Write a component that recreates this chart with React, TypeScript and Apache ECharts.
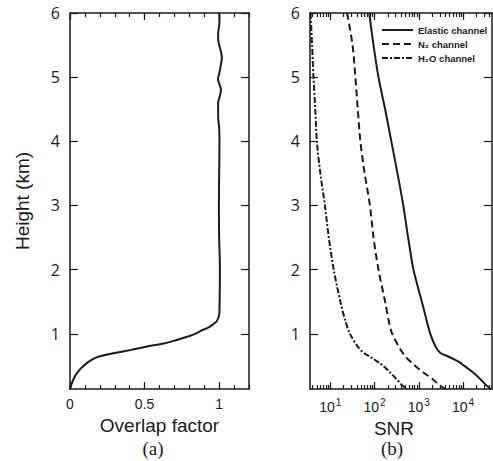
import React, { useEffect, useRef } from "react";
import * as echarts from "echarts";

// ---- Data ----
const overlapHeights = [0.14, 0.2, 0.3, 0.4, 0.5, 0.6, 0.65, 0.7, 0.75, 0.8, 0.85, 0.9, 0.95, 1.0, 1.05, 1.1, 1.15, 1.2, 1.3, 1.5, 2.0, 2.5, 3.0, 3.5, 4.0, 4.2, 4.4, 4.6, 4.7, 4.8, 4.9, 4.97, 5.05, 5.2, 5.3, 5.4, 5.5, 5.6, 5.7, 5.8, 5.9, 6.0];
const overlapFactor = [0, 0.008, 0.025, 0.05, 0.09, 0.15, 0.2, 0.3, 0.41, 0.51, 0.63, 0.71, 0.78, 0.84, 0.88, 0.93, 0.96, 0.985, 1.0, 1.003, 1.005, 1.0, 0.998, 1.0, 1.002, 1.0, 0.993, 0.993, 1.004, 1.012, 1.0, 0.992, 1.0, 1.012, 1.018, 1.012, 1.0, 0.993, 0.994, 1.0, 1.002, 1.0];

const snrHeights = [6, 5.5, 5, 4.5, 4, 3.5, 3, 2.5, 2, 1.5, 1.2, 1, 0.8, 0.7, 0.65, 0.6, 0.55, 0.5, 0.4, 0.3, 0.2, 0.14];
const elasticSnr = [76, 95, 123, 174, 240, 331, 447, 575, 759, 1175, 1514, 1820, 2400, 3090, 4470, 6310, 8510, 10700, 16600, 24000, 33100, 41700];
const n2Snr = [24, 32, 37, 42, 48, 60, 79, 95, 123, 174, 210, 251, 355, 437, 500, 575, 700, 832, 1260, 2000, 2950, 3980];
const h2oSnr = [3.6, 3.9, 4.2, 4.6, 5.0, 6.0, 7.6, 9.3, 12, 17, 22, 28, 42, 58, 76, 100, 126, 158, 224, 309, 417, 537];

const seriesNames = ["Elastic channel", "N\u2082 channel", "H\u2082O channel"];
const heightTicks = [1, 2, 3, 4, 5, 6];
const overlapLabels = [0, 0.5, 1];
const overlapMinorTicks = [0, 0.1, 0.2, 0.3, 0.4, 0.5, 0.6, 0.7, 0.8, 0.9, 1.0, 1.1, 1.2];
const snrDecades = [1, 2, 3, 4];
const panelLabels = ["(a)", "(b)"];

const INK = "#1a1a1a";
const SNR_MIN = Math.log10(3.5);
const SNR_MAX = Math.log10(45000);
const H_MIN = 0.14;
const H_MAX = 6;

const logMinor: number[] = [];
for (let n = 0; n <= 4; n++) {
  for (let k = 1; k <= 9; k++) {
    const v = Math.log10(k * Math.pow(10, n));
    if (v >= SNR_MIN && v <= SNR_MAX) logMinor.push(v);
  }
}

function xAxisDef(gridIndex: number, position: string, min: number, max: number, ticks: number[], len: number, showLine: boolean, extra: any = {}) {
  return {
    type: "value",
    gridIndex,
    position,
    min,
    max,
    axisLine: { show: showLine, onZero: false, lineStyle: { color: INK, width: 1.5 } },
    axisTick: { show: true, inside: true, length: len, customValues: ticks, lineStyle: { color: INK, width: 1.2 } },
    axisLabel: { show: false },
    splitLine: { show: false },
    ...extra,
  };
}

function yAxisDef(gridIndex: number, position: string, showLabels: boolean, extra: any = {}) {
  return {
    type: "value",
    gridIndex,
    position,
    min: H_MIN,
    max: H_MAX,
    axisLine: { show: true, onZero: false, lineStyle: { color: INK, width: 1.5 } },
    axisTick: { show: true, inside: true, length: 8, customValues: heightTicks, lineStyle: { color: INK, width: 1.2 } },
    axisLabel: showLabels
      ? { show: true, customValues: heightTicks, margin: 10, color: INK, fontSize: 16, fontFamily: "Open Sans" }
      : { show: false },
    splitLine: { show: false },
    ...extra,
  };
}

export default function App() {
  const ref = useRef<HTMLDivElement>(null);
  useEffect(() => {
    if (!ref.current) return;
    const chart = echarts.init(ref.current, undefined, { renderer: "svg" });
    const toLog = (vals: number[]) => snrHeights.map((h, i) => [Math.log10(vals[i]), h]);
    const option: any = {
      animation: false,
      backgroundColor: "#ffffff",
      grid: [
        { left: 70, top: 13, width: 179, height: 376, outerBoundsMode: "none" },
        { left: 310, top: 13, width: 182, height: 376, outerBoundsMode: "none" },
      ],
      xAxis: [
        xAxisDef(0, "bottom", 0, 1.2, overlapMinorTicks, 4, true, {
          axisLabel: {
            show: true,
            customValues: overlapLabels,
            margin: 8,
            color: INK,
            fontSize: 14,
            fontFamily: "Liberation Sans",
            formatter: (v: number) => String(v),
          },
          name: "Overlap factor",
          nameLocation: "middle",
          nameGap: 24,
          nameTextStyle: { color: INK, fontSize: 19, fontFamily: "Liberation Sans" },
        }),
        xAxisDef(0, "top", 0, 1.2, overlapMinorTicks, 4, true),
        xAxisDef(0, "bottom", 0, 1.2, overlapLabels, 7, false),
        xAxisDef(0, "top", 0, 1.2, overlapLabels, 7, false),
        xAxisDef(1, "bottom", SNR_MIN, SNR_MAX, logMinor, 4, true, {
          axisLabel: {
            show: true,
            customValues: snrDecades,
            margin: 8,
            color: INK,
            fontSize: 14,
            fontFamily: "Liberation Sans",
            formatter: (v: number) => `{b|10}{s|${Math.round(v)}}`,
            rich: {
              b: { fontSize: 14, fontFamily: "Liberation Sans", color: INK },
              s: { fontSize: 10, fontFamily: "Liberation Sans", color: INK, padding: [0, 0, 9, 1] },
            },
          },
          name: "SNR",
          nameLocation: "middle",
          nameGap: 30,
          nameTextStyle: { color: INK, fontSize: 19, fontFamily: "Liberation Sans", padding: [0, 14, 0, 0] },
        }),
        xAxisDef(1, "top", SNR_MIN, SNR_MAX, logMinor, 4, true),
        xAxisDef(1, "bottom", SNR_MIN, SNR_MAX, snrDecades, 7, false),
        xAxisDef(1, "top", SNR_MIN, SNR_MAX, snrDecades, 7, false),
      ],
      yAxis: [
        yAxisDef(0, "left", true, {
          name: "Height (km)",
          nameLocation: "middle",
          nameGap: 38,
          nameTextStyle: { color: INK, fontSize: 19, fontFamily: "Liberation Sans" },
        }),
        yAxisDef(0, "right", false),
        yAxisDef(1, "left", true),
        yAxisDef(1, "right", false),
      ],
      legend: {
        orient: "vertical",
        left: 376,
        top: 20,
        itemWidth: 31,
        itemHeight: 12,
        itemGap: 4,
        data: seriesNames,
        itemStyle: { opacity: 0 },
        textStyle: { color: INK, fontSize: 9.5, fontWeight: "bold", fontFamily: "Liberation Sans" },
      },
      series: [
        {
          type: "line",
          name: "Overlap",
          xAxisIndex: 0,
          yAxisIndex: 0,
          showSymbol: false,
          symbol: "none",
          smooth: 0.3,
          data: overlapHeights.map((h, i) => [overlapFactor[i], h]),
          lineStyle: { color: INK, width: 2 },
        },
        {
          type: "line",
          name: seriesNames[0],
          xAxisIndex: 4,
          yAxisIndex: 2,
          symbol: "none",
          smooth: 0.3,
          data: toLog(elasticSnr),
          itemStyle: { color: INK },
          lineStyle: { color: INK, width: 2 },
        },
        {
          type: "line",
          name: seriesNames[1],
          xAxisIndex: 4,
          yAxisIndex: 2,
          symbol: "none",
          smooth: 0.3,
          data: toLog(n2Snr),
          itemStyle: { color: INK },
          lineStyle: { color: INK, width: 2, type: [7, 4] },
        },
        {
          type: "line",
          name: seriesNames[2],
          xAxisIndex: 4,
          yAxisIndex: 2,
          symbol: "none",
          smooth: 0.3,
          data: toLog(h2oSnr),
          itemStyle: { color: INK },
          lineStyle: { color: INK, width: 2, type: [6, 2, 2, 2] },
        },
      ],
      graphic: [
        {
          type: "text",
          x: 153,
          y: 448,
          style: { text: panelLabels[0], fill: INK, font: "19px 'Liberation Serif'", textAlign: "center", textVerticalAlign: "middle" },
        },
        {
          type: "text",
          x: 392,
          y: 448,
          style: { text: panelLabels[1], fill: INK, font: "19px 'Liberation Serif'", textAlign: "center", textVerticalAlign: "middle" },
        },
      ],
    };
    chart.setOption(option);
    return () => chart.dispose();
  }, []);
  return <div ref={ref} style={{ position: "fixed", left: 0, top: 0, width: 493, height: 461, background: "#fff" }} />;
}
